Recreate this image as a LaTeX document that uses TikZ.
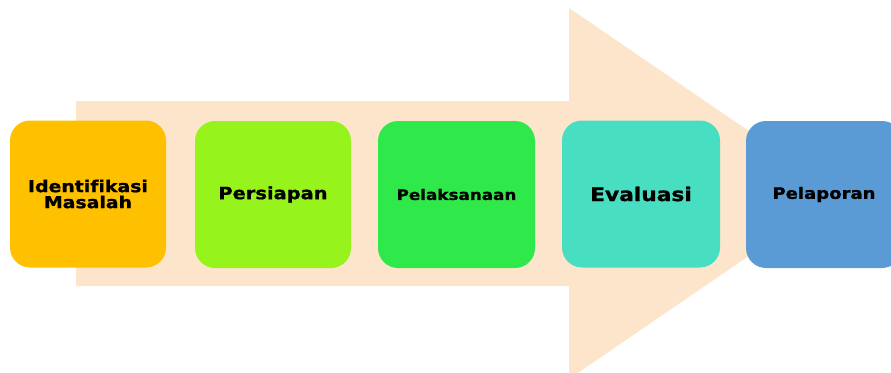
\documentclass[tikz,border=0pt]{standalone}
\usepackage{fontspec}
\setmainfont[Ligatures=CommonOff,FakeStretch=1.15,BoldFeatures={FakeBold=1}]{DejaVu Sans}
\definecolor{arrowc}{HTML}{FDE5CB}
\definecolor{c1}{HTML}{FFC000}
\definecolor{c2}{HTML}{96F41C}
\definecolor{c3}{HTML}{2FE94B}
\definecolor{c4}{HTML}{48DEC1}
\definecolor{c5}{HTML}{5B9BD5}
\begin{document}
\begin{tikzpicture}[x=1pt,y=-1pt,
  stage/.style={rounded corners=20pt, minimum width=156pt, minimum height=147pt, inner sep=0pt, align=center, font=\bfseries}]
\useasboundingbox (0,0) rectangle (891,372);
\clip (0,0) rectangle (891,372);
\fill[arrowc] (76,101) -- (569,101) -- (569,8) -- (840,193.5) -- (569,379) -- (569,286) -- (76,286) -- cycle;
\node[stage, fill=c1, font=\bfseries\fontsize{16.4}{16}\selectfont] (s1) at (88,194) {Identifikasi\\Masalah};
\node[stage, fill=c2, font=\bfseries\fontsize{16.9}{20}\selectfont] (s2) at (273,194.5) {Persiapan};
\node[stage, fill=c3, minimum width=157pt, font=\bfseries\fontsize{14.6}{20}\selectfont] (s3) at (456.5,194.5) {Pelaksanaan};
\node[stage, fill=c4, minimum width=158pt, font=\bfseries\fontsize{18.9}{24}\selectfont] (s4) at (641,194) {Evaluasi};
\node[stage, fill=c5, font=\bfseries\fontsize{15.7}{20}\selectfont] (s5) at (824,194.5) {Pelaporan};
\end{tikzpicture}
\end{document}
